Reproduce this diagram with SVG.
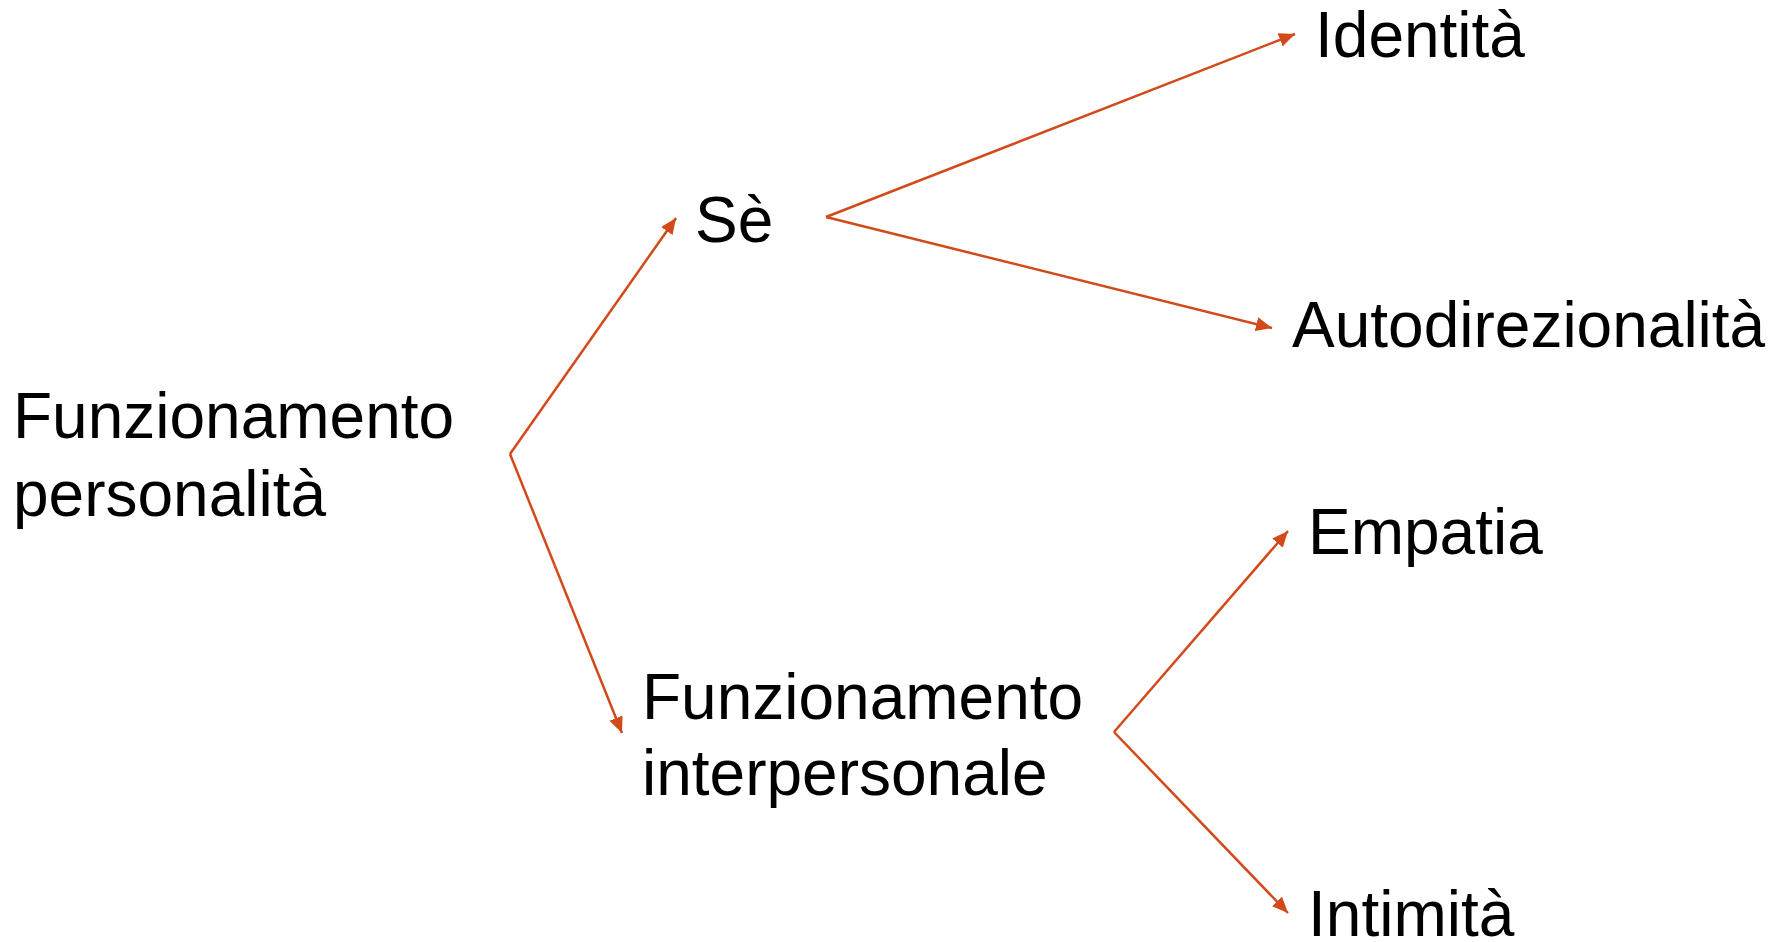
<svg xmlns="http://www.w3.org/2000/svg" width="1785" height="942" viewBox="0 0 1785 942">
<defs>
<style>
.t{font-family:"Liberation Sans",Arial,sans-serif;font-size:64px;fill:#000}
.c{stroke:#D24A1A;stroke-width:2.5;fill:none}
</style>
<marker id="ah" markerUnits="userSpaceOnUse" markerWidth="18" markerHeight="14" refX="16" refY="7" orient="auto">
<path d="M0,0 L16,7 L0,14 Z" fill="#D24A1A"/>
</marker>
</defs>
<rect width="1785" height="942" fill="#fff"/>
<g id="connectors">
<line class="c" x1="510" y1="454" x2="676" y2="218" marker-end="url(#ah)"/>
<line class="c" x1="510" y1="454" x2="622" y2="733" marker-end="url(#ah)"/>
<line class="c" x1="826" y1="217" x2="1295" y2="34" marker-end="url(#ah)"/>
<line class="c" x1="826" y1="217" x2="1272" y2="328" marker-end="url(#ah)"/>
<line class="c" x1="1114" y1="732" x2="1288" y2="531" marker-end="url(#ah)"/>
<line class="c" x1="1114" y1="732" x2="1288" y2="913" marker-end="url(#ah)"/>
</g>
<g id="node-funzionamento-personalita">
<text class="t" x="13" y="438">Funzionamento</text>
<text class="t" x="13" y="516">personalità</text>
</g>
<g id="node-se">
<text class="t" x="695" y="242">Sè</text>
</g>
<g id="node-funzionamento-interpersonale">
<text class="t" x="642" y="719">Funzionamento</text>
<text class="t" x="642" y="795">interpersonale</text>
</g>
<g id="node-identita">
<text class="t" x="1315" y="57">Identità</text>
</g>
<g id="node-autodirezionalita">
<text class="t" x="1292" y="347">Autodirezionalità</text>
</g>
<g id="node-empatia">
<text class="t" x="1308" y="554">Empatia</text>
</g>
<g id="node-intimita">
<text class="t" x="1308" y="936">Intimità</text>
</g>
</svg>
